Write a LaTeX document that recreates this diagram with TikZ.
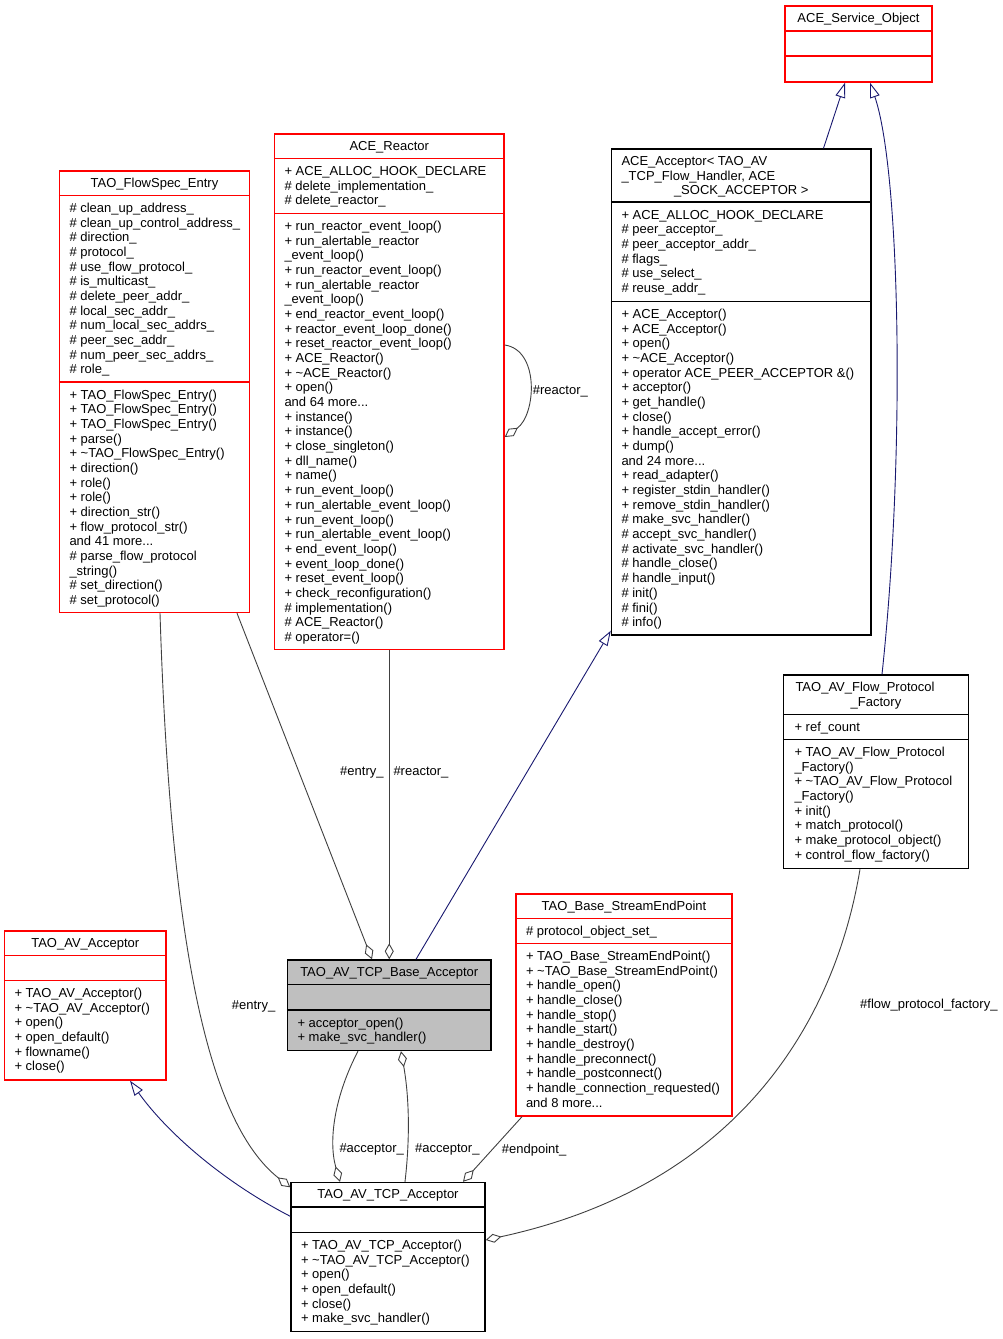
\documentclass[tikz,border=0pt]{standalone}
\usepackage{fontspec}
\setmainfont{Liberation Sans}
\usetikzlibrary{arrows.meta}
\definecolor{edgegray}{HTML}{404040}
\definecolor{inhblue}{HTML}{191970}
\definecolor{basefill}{HTML}{BFBFBF}
\newcommand\dfont{\fontsize{13}{14.67}\selectfont}
\begin{document}
\begin{tikzpicture}[x=1pt,y=-1pt,
  classbox/.style={draw, rectangle, inner sep=0pt, line width=1.4pt},
  redbox/.style={classbox, draw=red},
  blackbox/.style={classbox, draw=black},
  redline/.style={draw=red, line width=1.4pt},
  blackline/.style={draw=black, line width=1.4pt},
  ttl/.style={font=\dfont, inner sep=0pt, anchor=base},
  ttlw/.style={font=\dfont, inner sep=0pt, anchor=base west},
  sect/.style={font=\dfont, inner sep=0pt, align=left, anchor=north west},
  lbl/.style={font=\dfont, inner sep=0pt, anchor=base west},
  inh/.style={draw=inhblue, line width=0.9pt, -{Triangle[open, length=15pt, width=10pt]}},
  agg/.style={draw=edgegray, line width=0.9pt, -{Diamond[open, length=16pt, width=9pt]}}
]
\fill[white] (0,0) rectangle (1003,1339);
\useasboundingbox (0,0) rectangle (1003,1339);

% ---------- ACE_Service_Object
\node[redbox, minimum width=147pt, minimum height=76pt] (svc) at (858.5,44) {};
\draw[redline] ([yshift=-25.5pt]svc.north west) -- ([yshift=-25.5pt]svc.north east);
\draw[redline] ([yshift=-50.5pt]svc.north west) -- ([yshift=-50.5pt]svc.north east);
\node[ttl] (svc-t) at ([yshift=-17.1pt]svc.north) {ACE\_Service\_Object};

% ---------- ACE_Reactor
\node[redbox, minimum width=229.5pt, minimum height=515.5pt] (reactor) at (389.25,391.75) {};
\draw[redline] ([yshift=-25pt]reactor.north west) -- ([yshift=-25pt]reactor.north east);
\draw[redline] ([yshift=-80pt]reactor.north west) -- ([yshift=-80pt]reactor.north east);
\node[ttl] (reactor-t) at ([yshift=-17.1pt]reactor.north) {ACE\_Reactor};
\node[sect] (reactor-a) at ([xshift=10.5pt,yshift=-31.83pt]reactor.north west)
 {\strut + ACE\_ALLOC\_HOOK\_DECLARE\\\# delete\_implementation\_\\\# delete\_reactor\_};
\node[sect] (reactor-m) at ([xshift=10.5pt,yshift=-86.83pt]reactor.north west)
 {\strut + run\_reactor\_event\_loop()\\
 + run\_alertable\_reactor\\
 \_event\_loop()\\
 + run\_reactor\_event\_loop()\\
 + run\_alertable\_reactor\\
 \_event\_loop()\\
 + end\_reactor\_event\_loop()\\
 + reactor\_event\_loop\_done()\\
 + reset\_reactor\_event\_loop()\\
 + ACE\_Reactor()\\
 + \textasciitilde{}ACE\_Reactor()\\
 + open()\\
 and 64 more...\\
 + instance()\\
 + instance()\\
 + close\_singleton()\\
 + dll\_name()\\
 + name()\\
 + run\_event\_loop()\\
 + run\_alertable\_event\_loop()\\
 + run\_event\_loop()\\
 + run\_alertable\_event\_loop()\\
 + end\_event\_loop()\\
 + event\_loop\_done()\\
 + reset\_event\_loop()\\
 + check\_reconfiguration()\\
 \# implementation()\\
 \# ACE\_Reactor()\\
 \# operator=()};

% ---------- TAO_FlowSpec_Entry
\node[redbox, minimum width=190pt, minimum height=441.5pt] (flowspec) at (154.5,391.75) {};
\draw[redline] ([yshift=-25pt]flowspec.north west) -- ([yshift=-25pt]flowspec.north east);
\draw[redline] ([yshift=-211.5pt]flowspec.north west) -- ([yshift=-211.5pt]flowspec.north east);
\node[ttl] (flowspec-t) at ([yshift=-17.1pt]flowspec.north) {TAO\_FlowSpec\_Entry};
\node[sect] (flowspec-a) at ([xshift=10.5pt,yshift=-31.83pt]flowspec.north west)
 {\strut \# clean\_up\_address\_\\
 \# clean\_up\_control\_address\_\\
 \# direction\_\\
 \# protocol\_\\
 \# use\_flow\_protocol\_\\
 \# is\_multicast\_\\
 \# delete\_peer\_addr\_\\
 \# local\_sec\_addr\_\\
 \# num\_local\_sec\_addrs\_\\
 \# peer\_sec\_addr\_\\
 \# num\_peer\_sec\_addrs\_\\
 \# role\_};
\node[sect] (flowspec-m) at ([xshift=10.5pt,yshift=-218.33pt]flowspec.north west)
 {\strut + TAO\_FlowSpec\_Entry()\\
 + TAO\_FlowSpec\_Entry()\\
 + TAO\_FlowSpec\_Entry()\\
 + parse()\\
 + \textasciitilde{}TAO\_FlowSpec\_Entry()\\
 + direction()\\
 + role()\\
 + role()\\
 + direction\_str()\\
 + flow\_protocol\_str()\\
 and 41 more...\\
 \# parse\_flow\_protocol\\
 \_string()\\
 \# set\_direction()\\
 \# set\_protocol()};

% ---------- ACE_Acceptor<...>
\node[blackbox, minimum width=259.5pt, minimum height=486pt] (acc) at (741.25,392) {};
\draw[blackline] ([yshift=-53.5pt]acc.north west) -- ([yshift=-53.5pt]acc.north east);
\draw[blackline] ([yshift=-153pt]acc.north west) -- ([yshift=-153pt]acc.north east);
\node[ttlw] (acc-t1) at ([xshift=10.5pt,yshift=-17.1pt]acc.north west) {ACE\_Acceptor< TAO\_AV};
\node[ttlw] (acc-t2) at ([xshift=10.5pt,yshift=-31.77pt]acc.north west) {\_TCP\_Flow\_Handler, ACE};
\node[ttl] (acc-t3) at ([yshift=-46.44pt]acc.north) {\_SOCK\_ACCEPTOR >};
\node[sect] (acc-a) at ([xshift=10.5pt,yshift=-60.33pt]acc.north west)
 {\strut + ACE\_ALLOC\_HOOK\_DECLARE\\
 \# peer\_acceptor\_\\
 \# peer\_acceptor\_addr\_\\
 \# flags\_\\
 \# use\_select\_\\
 \# reuse\_addr\_};
\node[sect] (acc-m) at ([xshift=10.5pt,yshift=-159.83pt]acc.north west)
 {\strut + ACE\_Acceptor()\\
 + ACE\_Acceptor()\\
 + open()\\
 + \textasciitilde{}ACE\_Acceptor()\\
 + operator ACE\_PEER\_ACCEPTOR \&()\\
 + acceptor()\\
 + get\_handle()\\
 + close()\\
 + handle\_accept\_error()\\
 + dump()\\
 and 24 more...\\
 + read\_adapter()\\
 + register\_stdin\_handler()\\
 + remove\_stdin\_handler()\\
 \# make\_svc\_handler()\\
 \# accept\_svc\_handler()\\
 \# activate\_svc\_handler()\\
 \# handle\_close()\\
 \# handle\_input()\\
 \# init()\\
 \# fini()\\
 \# info()};

% ---------- TAO_AV_Flow_Protocol_Factory
\node[blackbox, minimum width=185pt, minimum height=193.5pt] (fpf) at (876,771.75) {};
\draw[blackline] ([yshift=-40pt]fpf.north west) -- ([yshift=-40pt]fpf.north east);
\draw[blackline] ([yshift=-65pt]fpf.north west) -- ([yshift=-65pt]fpf.north east);
\node[ttlw] (fpf-t1) at ([xshift=12.5pt,yshift=-17.1pt]fpf.north west) {TAO\_AV\_Flow\_Protocol};
\node[ttl] (fpf-t2) at ([yshift=-31.77pt]fpf.north) {\_Factory};
\node[sect] (fpf-a) at ([xshift=11.5pt,yshift=-46.83pt]fpf.north west) {\strut + ref\_count};
\node[sect] (fpf-m) at ([xshift=11.5pt,yshift=-71.83pt]fpf.north west)
 {\strut + TAO\_AV\_Flow\_Protocol\\
 \_Factory()\\
 + \textasciitilde{}TAO\_AV\_Flow\_Protocol\\
 \_Factory()\\
 + init()\\
 + match\_protocol()\\
 + make\_protocol\_object()\\
 + control\_flow\_factory()};

% ---------- TAO_Base_StreamEndPoint
\node[redbox, minimum width=216pt, minimum height=222pt] (sep) at (624,1005) {};
\draw[redline] ([yshift=-25pt]sep.north west) -- ([yshift=-25pt]sep.north east);
\draw[redline] ([yshift=-50pt]sep.north west) -- ([yshift=-50pt]sep.north east);
\node[ttl] (sep-t) at ([yshift=-17.1pt]sep.north) {TAO\_Base\_StreamEndPoint};
\node[sect] (sep-a) at ([xshift=10.5pt,yshift=-31.83pt]sep.north west) {\strut \# protocol\_object\_set\_};
\node[sect] (sep-m) at ([xshift=10.5pt,yshift=-56.83pt]sep.north west)
 {\strut + TAO\_Base\_StreamEndPoint()\\
 + \textasciitilde{}TAO\_Base\_StreamEndPoint()\\
 + handle\_open()\\
 + handle\_close()\\
 + handle\_stop()\\
 + handle\_start()\\
 + handle\_destroy()\\
 + handle\_preconnect()\\
 + handle\_postconnect()\\
 + handle\_connection\_requested()\\
 and 8 more...};

% ---------- TAO_AV_TCP_Base_Acceptor
\node[blackbox, fill=basefill, minimum width=203.5pt, minimum height=90.5pt] (base) at (389.25,1005.25) {};
\draw[blackline] ([yshift=-25pt]base.north west) -- ([yshift=-25pt]base.north east);
\draw[blackline] ([yshift=-50.5pt]base.north west) -- ([yshift=-50.5pt]base.north east);
\node[ttl] (base-t) at ([yshift=-17.1pt]base.north) {TAO\_AV\_TCP\_Base\_Acceptor};
\node[sect] (base-m) at ([xshift=10.5pt,yshift=-57.33pt]base.north west)
 {\strut + acceptor\_open()\\
 + make\_svc\_handler()};

% ---------- TAO_AV_Acceptor
\node[redbox, minimum width=161.5pt, minimum height=149pt] (avacc) at (85.25,1005.5) {};
\draw[redline] ([yshift=-25pt]avacc.north west) -- ([yshift=-25pt]avacc.north east);
\draw[redline] ([yshift=-50pt]avacc.north west) -- ([yshift=-50pt]avacc.north east);
\node[ttl] (avacc-t) at ([yshift=-17.1pt]avacc.north) {TAO\_AV\_Acceptor};
\node[sect] (avacc-m) at ([xshift=10.5pt,yshift=-56.83pt]avacc.north west)
 {\strut + TAO\_AV\_Acceptor()\\
 + \textasciitilde{}TAO\_AV\_Acceptor()\\
 + open()\\
 + open\_default()\\
 + flowname()\\
 + close()};

% ---------- TAO_AV_TCP_Acceptor
\node[blackbox, minimum width=194pt, minimum height=149pt] (tcp) at (388,1257) {};
\draw[blackline] ([yshift=-25pt]tcp.north west) -- ([yshift=-25pt]tcp.north east);
\draw[blackline] ([yshift=-50.5pt]tcp.north west) -- ([yshift=-50.5pt]tcp.north east);
\node[ttl] (tcp-t) at ([yshift=-17.1pt]tcp.north) {TAO\_AV\_TCP\_Acceptor};
\node[sect] (tcp-m) at ([xshift=10.5pt,yshift=-57.33pt]tcp.north west)
 {\strut + TAO\_AV\_TCP\_Acceptor()\\
 + \textasciitilde{}TAO\_AV\_TCP\_Acceptor()\\
 + open()\\
 + open\_default()\\
 + close()\\
 + make\_svc\_handler()};

% ---------- inheritance edges
\draw[inh] ([xshift=82.25pt]acc.north) -- ([xshift=-13.5pt]svc.south);
\draw[inh] ([xshift=6pt]fpf.north) .. controls (906,450) and (900,170) .. ([xshift=11.5pt]svc.south);
\draw[inh] ([xshift=26.75pt]base.north) -- ([yshift=5pt]acc.south west);
\draw[inh] ([yshift=-34.5pt]tcp.north west) .. controls (220,1180) and (165,1130) .. ([xshift=44.75pt]avacc.south);

% ---------- aggregation edges
\draw[agg] ([xshift=82.5pt]flowspec.south) -- ([xshift=-17.25pt]base.north);
\draw[agg] (reactor.south) -- (base.north);
\draw[agg] ([yshift=46.75pt]reactor.east) .. controls (540,350) and (536,415) .. ([yshift=-45.25pt]reactor.east);
\draw[agg] ([xshift=5.5pt]flowspec.south) .. controls (170,930) and (205,1120) .. ([yshift=-5.5pt]tcp.north west);
\draw[agg] ([xshift=-31.25pt]base.south) .. controls (335,1095) and (328,1140) .. ([xshift=-48pt]tcp.north);
\draw[agg] ([xshift=17pt]tcp.north) .. controls (411,1130) and (408,1090) .. ([xshift=11.75pt]base.south);
\draw[agg] ([xshift=-102pt]sep.south) -- ([xshift=75pt]tcp.north);
\draw[agg] ([xshift=-16pt]fpf.south) .. controls (835,1020) and (740,1185) .. ([yshift=17pt]tcp.east);

% ---------- edge labels
\node[lbl] (l-entry1) at (340,775.3) {\#entry\_};
\node[lbl] (l-reactor1) at (393.3,775.3) {\#reactor\_};
\node[lbl] (l-reactor2) at (532.7,394.6) {\#reactor\_};
\node[lbl] (l-entry2) at (231.7,1009.6) {\#entry\_};
\node[lbl] (l-acc1) at (339.3,1152.9) {\#acceptor\_};
\node[lbl] (l-acc2) at (415,1152.9) {\#acceptor\_};
\node[lbl] (l-endpoint) at (501.7,1153.5) {\#endpoint\_};
\node[lbl] (l-fpf) at (860,1008.6) {\#flow\_protocol\_factory\_};
\end{tikzpicture}
\end{document}
